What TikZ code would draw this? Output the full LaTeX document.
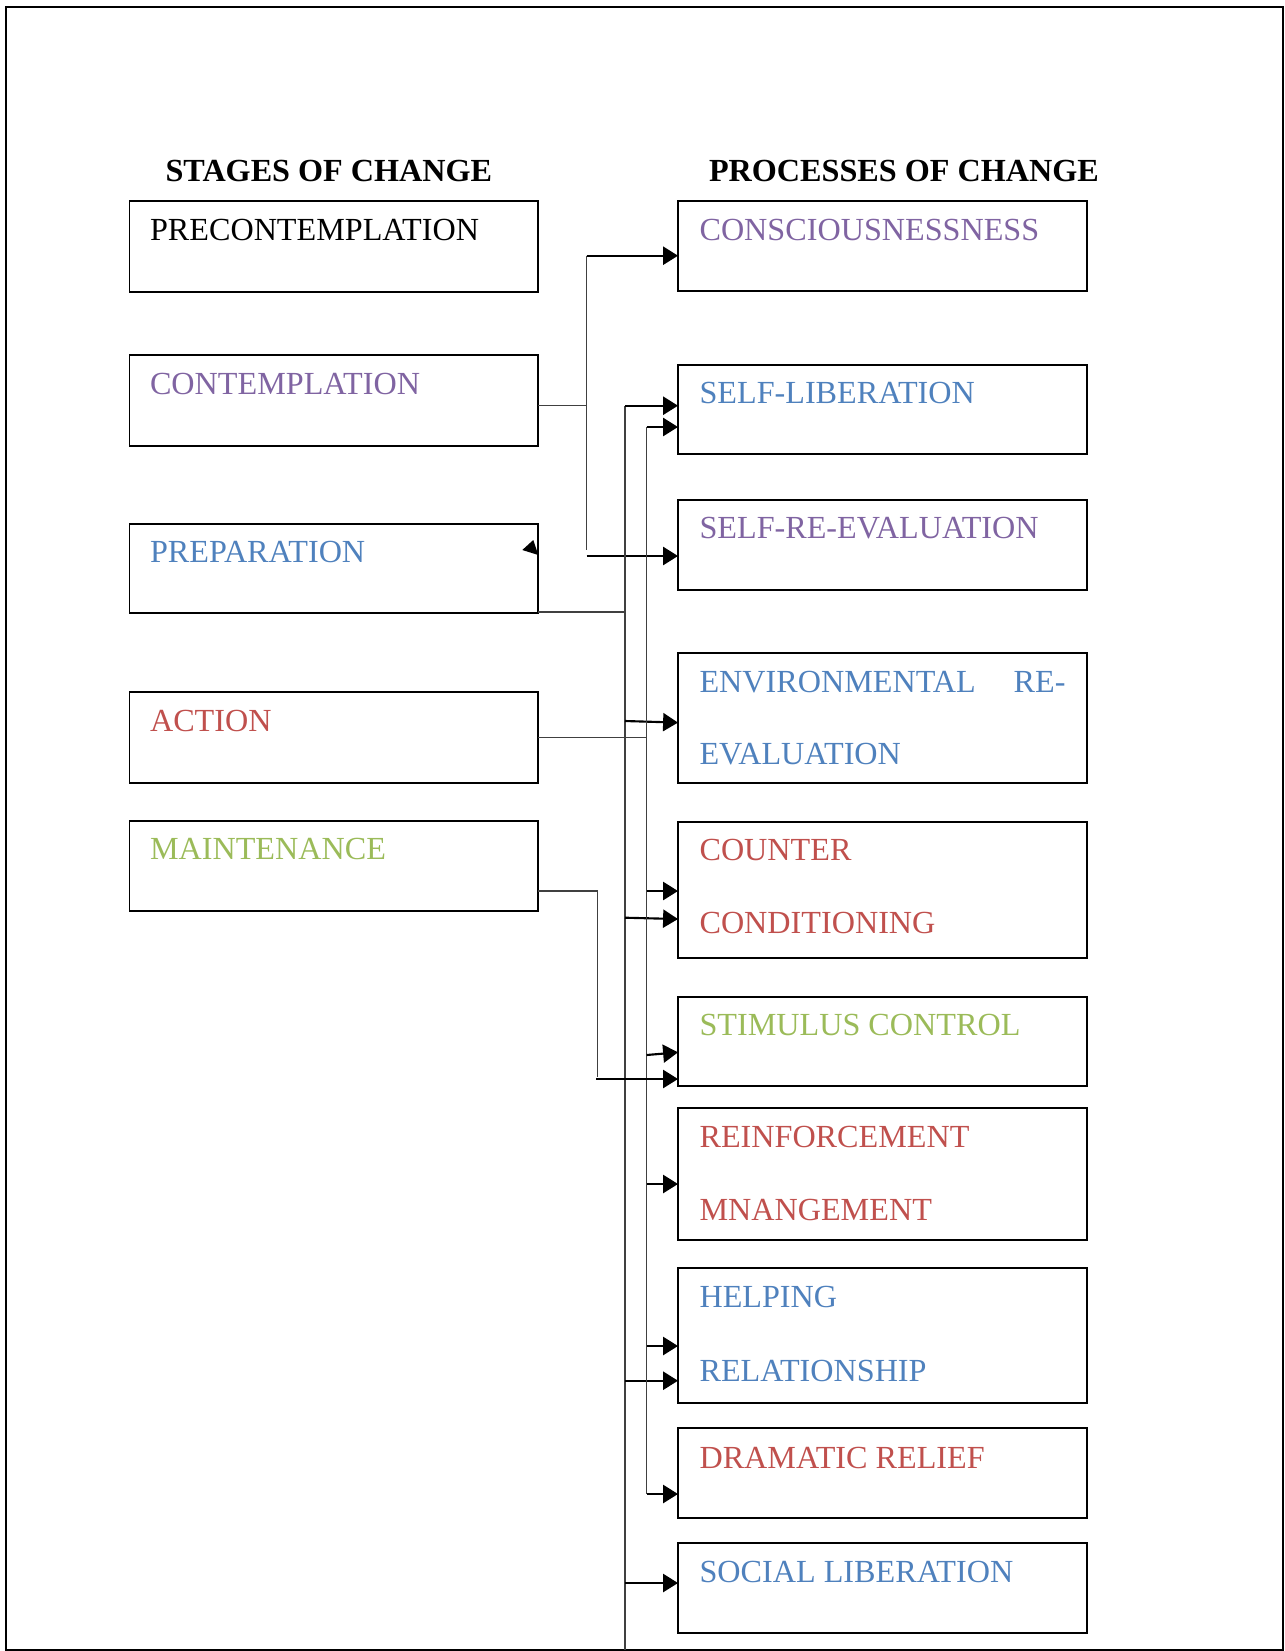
\documentclass[tikz,border=0pt]{standalone}
\usepackage{fontspec}
\setmainfont{Liberation Serif}
\usetikzlibrary{arrows.meta,calc}
\definecolor{stpurple}{HTML}{8064A2}
\definecolor{stblue}{HTML}{4F81BD}
\definecolor{stred}{HTML}{C0504D}
\definecolor{stgreen}{HTML}{9BBB59}
% box from (x1,y1) to (x2,y2), in pixel units
\newcommand\mkbox[5]{\node[box,anchor=north west,minimum width={(#4-#2)*0.376pt},minimum height={(#5-#3)*0.376pt}] (#1) at (#2,#3) {};}
\begin{document}
\begin{tikzpicture}[x=0.376pt,y=-0.376pt,
  box/.style={draw,line width=0.75pt,inner sep=0pt,outer sep=0pt},
  lbl/.style={anchor=base west,inner sep=0pt,font=\fontsize{12.1}{14}\selectfont},
  head/.style={anchor=base west,inner sep=0pt,font=\fontsize{12.1}{14}\selectfont\bfseries},
  feed/.style={draw=black!75,line width=0.55pt},
  arr/.style={line width=0.8pt,-{Triangle[length=5.6pt,width=6.8pt]}}]
\useasboundingbox (0,0) rectangle (1285,1651);
\draw[line width=0.75pt] (6,7) rectangle (1282.7,1649.5);

% headings
\node[head] (hstages) at (165,181.5) {STAGES OF CHANGE};
\node[head] (hproc) at (708.5,181.5) {PROCESSES OF CHANGE};

% stages of change
\mkbox{pre}{129.5}{201}{538.3}{292}
\mkbox{con}{129.5}{355}{538.3}{445.5}
\mkbox{prep}{129.5}{523.5}{538.3}{613}
\mkbox{act}{129.5}{692}{538.3}{782.5}
\mkbox{mnt}{129.5}{820.5}{538.3}{911}

\node[lbl] (tpre) at ($(pre.north west)+(20,39)$) {PRECONTEMPLATION};
\node[lbl,text=stpurple] (tcon) at ($(con.north west)+(20,39)$) {CONTEMPLATION};
\node[lbl,text=stblue] (tprep) at ($(prep.north west)+(20,39)$) {PREPARATION};
\node[lbl,text=stred] (tact) at ($(act.north west)+(20,39)$) {ACTION};
\node[lbl,text=stgreen] (tmnt) at ($(mnt.north west)+(20,39)$) {MAINTENANCE};

% processes of change
\mkbox{cons}{678}{201}{1087}{291}
\mkbox{slib}{678}{364.5}{1087}{454}
\mkbox{sre}{678}{500}{1087}{590}
\mkbox{env}{678}{653}{1087}{782.5}
\mkbox{cc}{678}{821.6}{1087}{957.5}
\mkbox{sc}{678}{996.5}{1087}{1086}
\mkbox{rm}{678}{1108}{1087}{1240}
\mkbox{hr}{678}{1268}{1087}{1403}
\mkbox{dr}{678}{1428}{1087}{1518}
\mkbox{sl}{678}{1543}{1087}{1633}

\node[lbl,text=stpurple] (tcons) at ($(cons.north west)+(21,39)$) {CONSCIOUSNESSNESS};
\node[lbl,text=stblue] (tslib) at ($(slib.north west)+(21,39)$) {SELF-LIBERATION};
\node[lbl,text=stpurple] (tsre) at ($(sre.north west)+(21,38)$) {SELF-RE-EVALUATION};
\node[lbl,text=stblue] (tenv1) at ($(env.north west)+(21,39)$) {ENVIRONMENTAL};
\node[lbl,text=stblue,anchor=base east] (tenv2) at ($(env.north east)+(-21,39)$) {RE-};
\node[lbl,text=stblue] (tenv3) at ($(env.north west)+(21,111)$) {EVALUATION};
\node[lbl,text=stred] (tcc1) at ($(cc.north west)+(21,39)$) {COUNTER};
\node[lbl,text=stred] (tcc2) at ($(cc.north west)+(21,111.5)$) {CONDITIONING};
\node[lbl,text=stgreen] (tsc) at ($(sc.north west)+(21,39)$) {STIMULUS CONTROL};
\node[lbl,text=stred] (trm1) at ($(rm.north west)+(21,39)$) {REINFORCEMENT};
\node[lbl,text=stred] (trm2) at ($(rm.north west)+(21,112)$) {MNANGEMENT};
\node[lbl,text=stblue] (thr1) at ($(hr.north west)+(21,39)$) {HELPING};
\node[lbl,text=stblue] (thr2) at ($(hr.north west)+(21,113)$) {RELATIONSHIP};
\node[lbl,text=stred] (tdr) at ($(dr.north west)+(21,40)$) {DRAMATIC RELIEF};
\node[lbl,text=stblue] (tsl) at ($(sl.north west)+(21,39)$) {SOCIAL LIBERATION};

% contemplation feed
\coordinate (c0) at (586.7,255.7);
\coordinate (c1) at (586.7,405.7);
\coordinate (c2) at (586.7,550);
\coordinate (c3) at (586.7,556);
\draw[feed] (c1 -| con.east) -- (c1);
\draw[feed] (c0) -- (c2);
\draw[arr] (c0) -- (c0 -| cons.west);
\draw[arr] (c3) -- (c3 -| sre.west);

% preparation feed and its bus
\coordinate (p0) at (625,612);
\coordinate (ptop) at (625,405.7);
\coordinate (pbot) at (625,1649.5);
\draw[feed] (p0 -| prep.east) -- (p0);
\draw[feed] (ptop) -- (pbot);
\coordinate (p1) at (625,721);
\coordinate (p2) at (625,917.7);
\coordinate (p3) at (625,1380.7);
\coordinate (p4) at (625,1583);
\draw[arr] (ptop) -- (ptop -| slib.west);
\draw[arr] (p1) -- ([yshift=-0.6pt]p1 -| env.west);
\draw[arr] (p2) -- ([yshift=-0.5pt]p2 -| cc.west);
\draw[arr] (p3) -- (p3 -| hr.west);
\draw[arr] (p4) -- (p4 -| sl.west);

% action feed and its bus
\coordinate (a0) at (646.7,737.3);
\coordinate (atop) at (646.7,427);
\coordinate (abot) at (646.7,1494);
\draw[feed] (a0 -| act.east) -- (a0);
\draw[feed] (atop) -- (abot);
\coordinate (a1) at (646.7,891);
\coordinate (a2) at (646.7,1055);
\coordinate (a3) at (646.7,1184);
\coordinate (a4) at (646.7,1346);
\draw[arr] (atop) -- (atop -| slib.west);
\draw[arr] (a1) -- (a1 -| cc.west);
\draw[arr] (a2) -- ([yshift=1pt]a2 -| sc.west);
\draw[arr] (a3) -- (a3 -| rm.west);
\draw[arr] (a4) -- (a4 -| hr.west);
\draw[arr] (abot) -- (abot -| dr.west);

% maintenance feed
\coordinate (m0) at (597.3,891);
\coordinate (m1) at (597.3,1076.7);
\coordinate (m2) at (596,1079);
\draw[feed] (m0 -| mnt.east) -- (m0) -- (m1);
\draw[arr] (m2) -- (m2 -| sc.west);

% loose arrowhead at the preparation box
\fill (522.3,550) -- (533.3,540) -- (prep.east |- 0,555) -- cycle;
\end{tikzpicture}
\end{document}
